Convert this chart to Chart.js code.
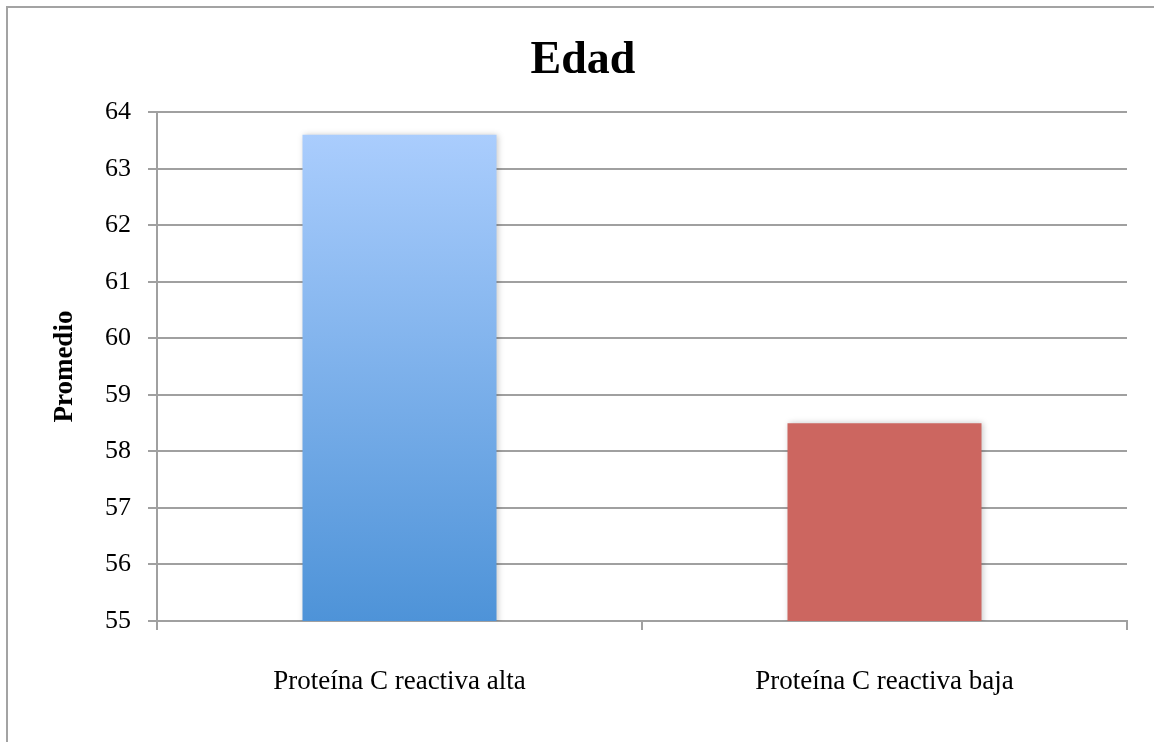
<!DOCTYPE html>
<html>
<head>
<meta charset="utf-8">
<script src="https://cdn.jsdelivr.net/npm/chart.js@4.4.0/dist/chart.umd.min.js"></script>
<style>
  html, body { margin: 0; padding: 0; background: #fff; overflow: hidden; width: 1154px; height: 742px; }
  #frame { position: absolute; left: 6px; top: 6px; width: 1160px; height: 780px; border: 2px solid #a3a3a3; }
  #wrap { position: absolute; left: 0; top: 0; width: 1150px; height: 760px; }
</style>
</head>
<body>
<div id="frame"><div id="wrap"><canvas id="chart"></canvas></div></div>
<script>
// chart data
const categories = ["Proteína C reactiva alta", "Proteína C reactiva baja"];
const promedios = [63.6, 58.5];
const yTicks = [55, 56, 57, 58, 59, 60, 61, 62, 63, 64];

const serif = "'Liberation Serif', 'DejaVu Serif', serif";
const gridGray = "#a0a0a0";

// blue bar gets a vertical gradient, red bar is flat
function barColor(ctx) {
  const chart = ctx.chart;
  if (ctx.dataIndex === 1) return "#cc6660";
  if (!chart.chartArea) return "#7fb0ec";
  const yScale = chart.scales.y;
  const top = yScale.getPixelForValue(ctx.raw);
  const bottom = yScale.getPixelForValue(yScale.min);
  const g = chart.ctx.createLinearGradient(0, top, 0, bottom);
  g.addColorStop(0, "#aacdfd");
  g.addColorStop(1, "#4e93d8");
  return g;
}

// soft shadow behind bars
const barShadow = {
  id: "barShadow",
  beforeDatasetsDraw(chart) {
    const c = chart.ctx;
    c.save();
    c.shadowColor = "rgba(0,0,0,0.22)";
    c.shadowBlur = 6;
    c.shadowOffsetX = 1;
    c.shadowOffsetY = 0;
  },
  afterDatasetsDraw(chart) {
    chart.ctx.restore();
  }
};

new Chart(document.getElementById("chart"), {
  type: "bar",
  data: {
    labels: categories,
    datasets: [{
      label: "Edad",
      data: promedios,
      backgroundColor: barColor,
      borderWidth: 0,
      categoryPercentage: 1,
      barPercentage: 0.4
    }]
  },
  options: {
    responsive: true,
    maintainAspectRatio: false,
    animation: false,
    events: [],
    layout: { padding: { left: 31, right: 31, top: 0, bottom: 47 } },
    plugins: {
      legend: { display: false },
      tooltip: { enabled: false },
      title: {
        display: true,
        text: "Edad",
        color: "#000",
        font: { family: serif, size: 46, weight: "bold", lineHeight: 1.2 },
        padding: { top: 26, bottom: 23 }
      }
    },
    scales: {
      x: {
        grid: {
          display: true,
          offset: true,
          drawOnChartArea: false,
          drawTicks: true,
          tickLength: 9,
          color: gridGray,
          lineWidth: 2
        },
        border: { color: gridGray, width: 2 },
        ticks: {
          color: "#000",
          padding: 36,
          maxRotation: 0,
          font: { family: serif, size: 27 }
        },
        afterFit(scale) { scale.height = 100; }
      },
      y: {
        min: 55,
        max: 64,
        afterBuildTicks(scale) { scale.ticks = yTicks.map(v => ({ value: v })); },
        grid: {
          color: gridGray,
          lineWidth: 2,
          drawTicks: true,
          tickLength: 9
        },
        border: { color: gridGray, width: 2 },
        ticks: {
          color: "#000",
          padding: 17,
          font: { family: serif, size: 26 }
        },
        title: {
          display: true,
          text: "Promedio",
          color: "#000",
          font: { family: serif, size: 27, weight: "bold", lineHeight: 1.2 },
          padding: { top: 10, bottom: 0 }
        },
        afterFit(scale) { scale.width = 118; }
      }
    }
  },
  plugins: [barShadow]
});
</script>
</body>
</html>
